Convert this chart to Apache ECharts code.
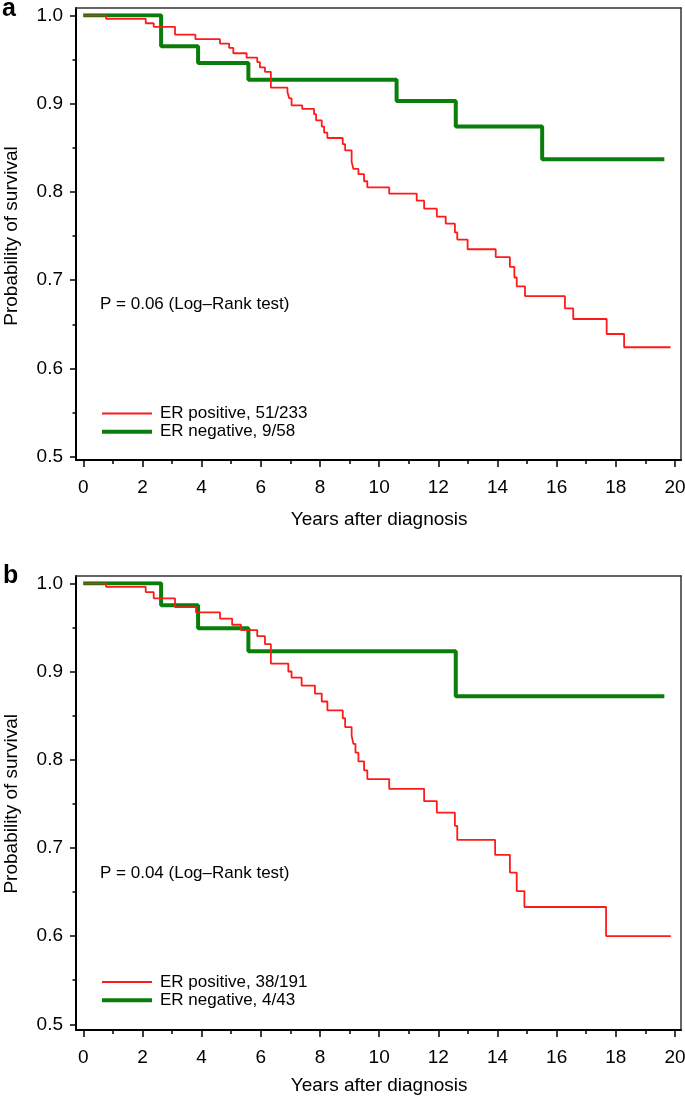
<!DOCTYPE html>
<html>
<head>
<meta charset="utf-8">
<script src="https://cdn.jsdelivr.net/npm/echarts@6/dist/echarts.min.js"></script>
<style>
  html, body { margin: 0; padding: 0; background: #fff; }
  #chart { width: 685px; height: 1097px; }
</style>
</head>
<body>
<div id="chart"></div>
<script>
// ---- Data ----
const xTicks = [0, 2, 4, 6, 8, 10, 12, 14, 16, 18, 20];
const yTicks = [0.5, 0.6, 0.7, 0.8, 0.9, 1.0];

// Panel a
const redA_years = [0, 0.77, 2.11, 2.38, 3.10, 3.79, 4.62, 4.93, 5.07, 5.52, 5.88, 5.97, 6.14, 6.34, 6.90, 6.96, 7.04, 7.40, 7.80, 7.87, 8.06, 8.14, 8.25, 8.77, 8.85, 9.07, 9.13, 9.30, 9.49, 9.60, 10.34, 11.27, 11.52, 11.95, 12.25, 12.56, 12.64, 12.99, 13.94, 14.42, 14.57, 14.65, 14.93, 16.28, 16.56, 17.69, 18.28, 19.85];
const redA_surv  = [1.0, 0.996, 0.991, 0.987, 0.978, 0.973, 0.968, 0.963, 0.957, 0.952, 0.947, 0.941, 0.936, 0.918, 0.913, 0.906, 0.898, 0.894, 0.888, 0.881, 0.874, 0.867, 0.861, 0.854, 0.847, 0.834, 0.826, 0.820, 0.812, 0.805, 0.798, 0.790, 0.781, 0.772, 0.764, 0.754, 0.746, 0.735, 0.726, 0.715, 0.703, 0.693, 0.682, 0.668, 0.656, 0.639, 0.624, 0.624];
const greenA_years = [0, 2.63, 3.88, 5.58, 10.59, 12.59, 15.51, 19.64];
const greenA_surv  = [1.0, 0.965, 0.946, 0.927, 0.903, 0.874, 0.837, 0.837];

// Panel b
const redB_years = [0, 0.77, 2.11, 2.38, 3.10, 3.81, 4.62, 5.03, 5.33, 5.88, 6.14, 6.34, 6.93, 7.04, 7.38, 7.83, 8.06, 8.25, 8.77, 8.85, 9.07, 9.13, 9.20, 9.30, 9.49, 9.60, 10.34, 11.52, 11.95, 12.56, 12.64, 13.92, 14.42, 14.65, 14.91, 17.67, 19.86];
const redB_surv  = [1.0, 0.996, 0.990, 0.983, 0.973, 0.967, 0.960, 0.953, 0.947, 0.940, 0.931, 0.909, 0.900, 0.893, 0.884, 0.875, 0.866, 0.856, 0.847, 0.837, 0.827, 0.818, 0.808, 0.798, 0.788, 0.778, 0.767, 0.753, 0.740, 0.725, 0.709, 0.692, 0.672, 0.651, 0.633, 0.600, 0.600];
const greenB_years = [0, 2.63, 3.88, 5.58, 12.59, 19.64];
const greenB_surv  = [1.0, 0.975, 0.949, 0.923, 0.872, 0.872];

const namesA = ['ER positive, 51/233', 'ER negative, 9/58'];
const namesB = ['ER positive, 38/191', 'ER negative, 4/43'];
const pTextA = 'P = 0.06 (Log\u2013Rank test)';
const pTextB = 'P = 0.04 (Log\u2013Rank test)';
const xTitle = 'Years after diagnosis';
const yTitle = 'Probability of survival';

// ---- Build ----
const zip = (a, b) => a.map((v, i) => [v, b[i]]);
const FONT = '"Liberation Sans", Arial, Helvetica, sans-serif';
const RED = '#ff1a1a';
const GREEN = '#0a7d0a';
const RED_W = 1.8;
const GREEN_W = 4;

function frameAxes(gridIndex) {
  const base = { gridIndex, type: 'value', min: 0, max: 1, axisTick: { show: false }, axisLabel: { show: false }, splitLine: { show: false } };
  const xs = [
    Object.assign({}, base, { position: 'bottom', axisLine: { show: true, onZero: false, lineStyle: { color: '#000', width: 2 } } }),
    Object.assign({}, base, { position: 'top', axisLine: { show: true, onZero: false, lineStyle: { color: '#333', width: 1.5 } } })
  ];
  const ys = [
    Object.assign({}, base, { position: 'left', axisLine: { show: true, onZero: false, lineStyle: { color: '#000', width: 2 } } }),
    Object.assign({}, base, { position: 'right', axisLine: { show: true, onZero: false, lineStyle: { color: '#333', width: 1.5 } } })
  ];
  return { xs, ys };
}

function dataX(gridIndex, offset, nameGap) {
  return {
    gridIndex, type: 'value', position: 'bottom', min: xTicks[0], max: xTicks[xTicks.length - 1], interval: 2,
    offset: offset,
    axisLine: { show: false, onZero: false },
    axisTick: { show: true, length: 7, lineStyle: { color: '#000', width: 1.5 } },
    minorTick: { show: true, splitNumber: 2, length: 4, lineStyle: { color: '#000', width: 1.5 } },
    axisLabel: { color: '#000', fontSize: 19, fontFamily: FONT, margin: 18 },
    splitLine: { show: false },
    name: xTitle, nameLocation: 'middle', nameGap: nameGap,
    nameTextStyle: { color: '#000', fontSize: 19, fontFamily: FONT }
  };
}

function dataY(gridIndex) {
  return {
    gridIndex, type: 'value', position: 'left', min: yTicks[0], max: yTicks[yTicks.length - 1], interval: 0.1,
    offset: 7.3,
    axisLine: { show: false, onZero: false },
    axisTick: { show: true, length: 6, lineStyle: { color: '#000', width: 1.5 } },
    minorTick: { show: true, splitNumber: 2, length: 3.5, lineStyle: { color: '#000', width: 1.5 } },
    axisLabel: { color: '#000', fontSize: 19, fontFamily: FONT, margin: 13, formatter: v => v.toFixed(1) },
    splitLine: { show: false },
    name: yTitle, nameLocation: 'middle', nameGap: 55,
    nameTextStyle: { color: '#000', fontSize: 19, fontFamily: FONT }
  };
}

function legendFor(names, top) {
  return {
    data: [
      { name: names[0], lineStyle: { color: RED, width: RED_W } },
      { name: names[1], lineStyle: { color: GREEN, width: GREEN_W } }
    ],
    orient: 'vertical', left: 100, top: top, padding: 0, itemGap: 0.3, itemWidth: 50, itemHeight: 14,
    itemStyle: { opacity: 0 },
    textStyle: { fontSize: 17, fontFamily: FONT, color: '#000', lineHeight: 18, padding: [0, 0, 0, 3] },
    selectedMode: false
  };
}

const fA = frameAxes(0);
const fB = frameAxes(2);
const G = { containLabel: false, outerBoundsMode: 'none' };

const option = {
  animation: false,
  backgroundColor: '#fff',
  grid: [
    Object.assign({ left: 76, top: 8, width: 605, height: 452 }, G),          // 0 frame a
    Object.assign({ left: 83.3, top: 15.3, width: 591.7, height: 441.4 }, G), // 1 data a
    Object.assign({ left: 76, top: 576, width: 605, height: 454 }, G),        // 2 frame b
    Object.assign({ left: 83.3, top: 583.3, width: 591.7, height: 441 }, G)   // 3 data b
  ],
  xAxis: [
    fA.xs[0], fA.xs[1],
    dataX(1, 3.3, 50),
    fB.xs[0], fB.xs[1],
    dataX(3, 5.7, 46)
  ],
  yAxis: [
    fA.ys[0], fA.ys[1],
    dataY(1),
    fB.ys[0], fB.ys[1],
    dataY(3)
  ],
  title: [
    { text: 'a', left: 2, top: -3, padding: 0, textStyle: { fontSize: 25, fontWeight: 'bold', fontFamily: FONT, color: '#000' } },
    { text: 'b', left: 3, top: 564, padding: 0, textStyle: { fontSize: 25, fontWeight: 'bold', fontFamily: FONT, color: '#000' } },
    { text: pTextA, left: 100, top: 295.5, padding: 0, textStyle: { fontSize: 17, fontWeight: 'normal', fontFamily: FONT, color: '#000' } },
    { text: pTextB, left: 100, top: 864.5, padding: 0, textStyle: { fontSize: 17, fontWeight: 'normal', fontFamily: FONT, color: '#000' } }
  ],
  legend: [legendFor(namesA, 404.5), legendFor(namesB, 973)],
  series: [
    { name: namesA[0], type: 'line', step: 'end', xAxisIndex: 2, yAxisIndex: 2, data: zip(redA_years, redA_surv),
      symbol: 'none', color: RED, lineStyle: { color: RED, width: RED_W }, z: 3 },
    { name: namesA[1], type: 'line', step: 'end', xAxisIndex: 2, yAxisIndex: 2, data: zip(greenA_years, greenA_surv),
      symbol: 'none', color: GREEN, lineStyle: { color: GREEN, width: GREEN_W }, z: 2 },
    { name: namesB[0], type: 'line', step: 'end', xAxisIndex: 5, yAxisIndex: 5, data: zip(redB_years, redB_surv),
      symbol: 'none', color: RED, lineStyle: { color: RED, width: RED_W }, z: 3 },
    { name: namesB[1], type: 'line', step: 'end', xAxisIndex: 5, yAxisIndex: 5, data: zip(greenB_years, greenB_surv),
      symbol: 'none', color: GREEN, lineStyle: { color: GREEN, width: GREEN_W }, z: 2 }
  ]
};

const chart = echarts.init(document.getElementById('chart'), null, { renderer: 'canvas' });
chart.setOption(option);
</script>
</body>
</html>
